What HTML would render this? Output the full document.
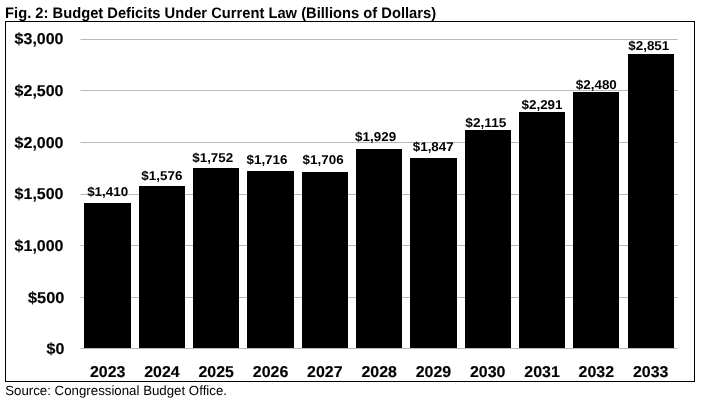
<!DOCTYPE html>
<html><head><meta charset="utf-8"><title>Fig. 2: Budget Deficits Under Current Law</title>
<style>
html,body{margin:0;padding:0;background:#fff;}
svg{display:block;}
text{font-family:"Liberation Sans",sans-serif;fill:#000;text-rendering:geometricPrecision;}
.t{font-weight:bold;font-size:15.2px;}
.s{font-size:13.33px;}
.y{font-weight:bold;font-size:15.7px;text-anchor:end;stroke:#000;stroke-width:0.15px;}
.x{font-weight:bold;font-size:15.7px;text-anchor:middle;stroke:#000;stroke-width:0.15px;}
.d{font-weight:bold;font-size:12.8px;text-anchor:middle;}
</style></head><body>
<svg width="701" height="401" viewBox="0 0 701 401">
<rect x="0" y="0" width="701" height="401" fill="#fff"/>
<text class="t" x="5.1" y="17.8" textLength="431" lengthAdjust="spacingAndGlyphs">Fig. 2: Budget Deficits Under Current Law (Billions of Dollars)</text>
<rect x="5.5" y="21.5" width="689" height="360" fill="#fff" stroke="#000" stroke-width="1"/>

<line x1="80.5" x2="677.7" y1="348.5" y2="348.5" stroke="#b9b9b9" stroke-width="1"/>
<text class="y" x="64.4" y="354" textLength="17.80" lengthAdjust="spacingAndGlyphs">$0</text>
<line x1="80.5" x2="677.7" y1="297.5" y2="297.5" stroke="#b9b9b9" stroke-width="1"/>
<text class="y" x="64.4" y="303" textLength="36.40" lengthAdjust="spacingAndGlyphs">$500</text>
<line x1="80.5" x2="677.7" y1="245.5" y2="245.5" stroke="#b9b9b9" stroke-width="1"/>
<text class="y" x="63.5" y="251" textLength="48.90" lengthAdjust="spacingAndGlyphs">$1,000</text>
<line x1="80.5" x2="677.7" y1="194.5" y2="194.5" stroke="#b9b9b9" stroke-width="1"/>
<text class="y" x="63.5" y="199" textLength="48.90" lengthAdjust="spacingAndGlyphs">$1,500</text>
<line x1="80.5" x2="677.7" y1="142.5" y2="142.5" stroke="#b9b9b9" stroke-width="1"/>
<text class="y" x="63.5" y="148" textLength="48.90" lengthAdjust="spacingAndGlyphs">$2,000</text>
<line x1="80.5" x2="677.7" y1="90.5" y2="90.5" stroke="#b9b9b9" stroke-width="1"/>
<text class="y" x="63.5" y="96" textLength="48.90" lengthAdjust="spacingAndGlyphs">$2,500</text>
<line x1="80.5" x2="677.7" y1="39.5" y2="39.5" stroke="#b9b9b9" stroke-width="1"/>
<text class="y" x="63.5" y="44" textLength="48.90" lengthAdjust="spacingAndGlyphs">$3,000</text>
<rect x="84" y="203" width="47" height="145" fill="#000"/>
<text class="d" x="107.65" y="196" textLength="40.98" lengthAdjust="spacingAndGlyphs">$1,410</text>
<text class="x" x="107.65" y="377" textLength="35.5" lengthAdjust="spacingAndGlyphs">2023</text>
<rect x="139" y="186" width="46" height="162" fill="#000"/>
<text class="d" x="161.85" y="180" textLength="40.98" lengthAdjust="spacingAndGlyphs">$1,576</text>
<text class="x" x="161.95" y="377" textLength="35.5" lengthAdjust="spacingAndGlyphs">2024</text>
<rect x="193" y="168" width="46" height="180" fill="#000"/>
<text class="d" x="212.75" y="162" textLength="40.98" lengthAdjust="spacingAndGlyphs">$1,752</text>
<text class="x" x="216.25" y="377" textLength="35.5" lengthAdjust="spacingAndGlyphs">2025</text>
<rect x="247" y="171" width="47" height="177" fill="#000"/>
<text class="d" x="267.00" y="164" textLength="40.98" lengthAdjust="spacingAndGlyphs">$1,716</text>
<text class="x" x="270.55" y="377" textLength="35.5" lengthAdjust="spacingAndGlyphs">2026</text>
<rect x="302" y="172" width="46" height="176" fill="#000"/>
<text class="d" x="323.10" y="164" textLength="40.98" lengthAdjust="spacingAndGlyphs">$1,706</text>
<text class="x" x="324.85" y="377" textLength="35.5" lengthAdjust="spacingAndGlyphs">2027</text>
<rect x="356" y="149" width="46" height="199" fill="#000"/>
<text class="d" x="375.62" y="141" textLength="40.98" lengthAdjust="spacingAndGlyphs">$1,929</text>
<text class="x" x="379.15" y="377" textLength="35.5" lengthAdjust="spacingAndGlyphs">2028</text>
<rect x="410" y="158" width="47" height="190" fill="#000"/>
<text class="d" x="433.25" y="151" textLength="40.98" lengthAdjust="spacingAndGlyphs">$1,847</text>
<text class="x" x="433.45" y="377" textLength="35.5" lengthAdjust="spacingAndGlyphs">2029</text>
<rect x="465" y="130" width="46" height="218" fill="#000"/>
<text class="d" x="485.85" y="127" textLength="40.98" lengthAdjust="spacingAndGlyphs">$2,115</text>
<text class="x" x="487.75" y="377" textLength="35.5" lengthAdjust="spacingAndGlyphs">2030</text>
<rect x="519" y="112" width="46" height="236" fill="#000"/>
<text class="d" x="542.00" y="109" textLength="40.98" lengthAdjust="spacingAndGlyphs">$2,291</text>
<text class="x" x="542.05" y="377" textLength="35.5" lengthAdjust="spacingAndGlyphs">2031</text>
<rect x="573" y="92" width="46" height="256" fill="#000"/>
<text class="d" x="596.33" y="89" textLength="40.98" lengthAdjust="spacingAndGlyphs">$2,480</text>
<text class="x" x="596.35" y="377" textLength="35.5" lengthAdjust="spacingAndGlyphs">2032</text>
<rect x="628" y="54" width="46" height="294" fill="#000"/>
<text class="d" x="648.80" y="50" textLength="40.98" lengthAdjust="spacingAndGlyphs">$2,851</text>
<text class="x" x="650.65" y="377" textLength="35.5" lengthAdjust="spacingAndGlyphs">2033</text>
<text class="s" x="5.2" y="394.5" textLength="221.8" lengthAdjust="spacingAndGlyphs">Source: Congressional Budget Office.</text>
</svg></body></html>
